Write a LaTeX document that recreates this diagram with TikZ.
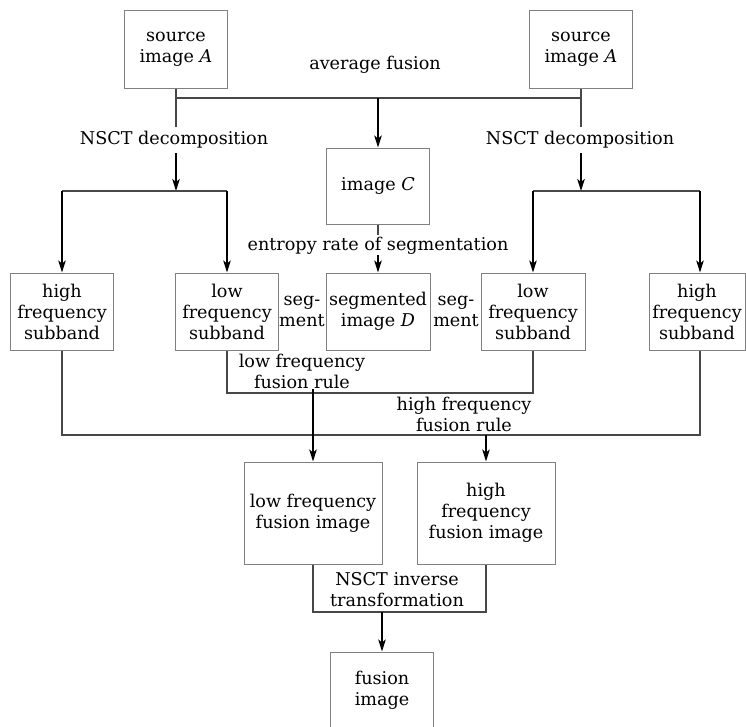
\documentclass[tikz,border=0pt]{standalone}
\usepackage{fontspec}
\setmainfont{DejaVu Serif}
\usetikzlibrary{arrows.meta,calc}
\tikzset{
  box/.style={draw=black!50, line width=1pt, fill=white, align=center, inner sep=0pt,
    font=\fontsize{17.6}{21}\selectfont},
  lbl/.style={align=center, inner sep=1pt, font=\fontsize{17.6}{21}\selectfont},
  conn/.style={draw=black!72, line width=1.3pt},
  arr/.style={draw=black, line width=1.7pt, -{Stealth[length=12pt,width=7.5pt,inset=3pt]}}
}
\begin{document}
\begin{tikzpicture}[x=1pt,y=-1pt]
\useasboundingbox (0,0) rectangle (746,726);
\clip (0,0) rectangle (746,726);
% boxes
\node[box, minimum width=103, minimum height=78] (srcL) at (176,49) {source\\image \textit{A}};
\node[box, minimum width=103, minimum height=78] (srcR) at (581,49) {source\\image \textit{A}};
\node[box, minimum width=103, minimum height=76] (imgC) at (378,186) {image \textit{C}};
\node[box, minimum width=103, minimum height=77] (hfL) at (62,311.5) {high\\frequency\\subband};
\node[box, minimum width=103, minimum height=77] (lfL) at (227,311.5) {low\\frequency\\subband};
\node[box, minimum width=104, minimum height=77] (segD) at (378,311.5) {segmented\\image \textit{D}};
\node[box, minimum width=104, minimum height=77] (lfR) at (533,311.5) {low\\frequency\\subband};
\node[box, minimum width=96, minimum height=77] (hfR) at (697,311.5) {high\\frequency\\subband};
\node[box, minimum width=138, minimum height=102] (lfFus) at (313,513) {low frequency\\fusion image};
\node[box, minimum width=138, minimum height=102] (hfFus) at (486,513) {high\\frequency\\fusion image};
\node[box, minimum width=103, minimum height=100] (fus) at (382,702) {};
\node[lbl] (fustxt) at (382,690) {fusion\\image};
% labels
\node[lbl] (avg) at (375,65) {average fusion};
\node[lbl] (nsctL) at (174,140) {NSCT decomposition};
\node[lbl] (nsctR) at (580,140) {NSCT decomposition};
\node[lbl] (ent) at (378,246) {entropy rate of segmentation};
\node[lbl] (segL) at (302,311) {seg-\\ment};
\node[lbl] (segR) at (456,311) {seg-\\ment};
\node[lbl] (lfr) at (302,371) {low frequency\\fusion rule};
\node[lbl] (hfr) at (464,414) {high frequency\\fusion rule};
\node[lbl] (inv) at (397,590) {NSCT inverse\\transformation};
% coordinates
\coordinate (avgL) at (176,98);
\coordinate (avgR) at (581,98);
\coordinate (dL1) at (176,127);
\coordinate (dL2) at (176,153);
\coordinate (dL3) at (176,191);
\coordinate (dR1) at (581,127);
\coordinate (dR2) at (581,153);
\coordinate (dR3) at (581,191);
\coordinate (eC1) at (378,235);
\coordinate (eC2) at (378,255);
\coordinate (lfM) at (313,393);
\coordinate (hfM) at (486,435);
\coordinate (invM) at (382,612);
\coordinate (hfRx) at (700,311.5);
% top connectors
\draw[conn] (srcL.south) -- (avgL) -- (avgR) -- (srcR.south);
\draw[conn] (avgL) -- (dL1);
\draw[conn] (avgR) -- (dR1);
\draw[arr] (imgC.north |- avgL) -- (imgC.north);
\draw[arr] (dL2) -- (dL3);
\draw[arr] (dR2) -- (dR3);
\draw[conn] (hfL.north |- dL3) -- (lfL.north |- dL3);
\draw[conn] (lfR.north |- dR3) -- (hfRx |- dR3);
\draw[arr] (hfL.north |- dL3) -- (hfL.north);
\draw[arr] (lfL.north |- dL3) -- (lfL.north);
\draw[arr] (lfR.north |- dR3) -- (lfR.north);
\draw[arr] (hfRx |- dR3) -- (hfRx |- hfR.north);
\draw[conn] (imgC.south) -- (eC1);
\draw[arr] (eC2) -- (segD.north);
% middle connectors
\draw[conn] (lfL.south) -- (lfL.south |- lfM) -- (lfR.south |- lfM) -- (lfR.south);
\draw[conn] (hfL.south) -- (hfL.south |- hfM) -- (hfRx |- hfM) -- (hfRx |- hfR.south);
\draw[arr] ($(lfM)+(0,-4)$) -- (lfFus.north);
\draw[arr] (hfM) -- (hfFus.north);
% bottom connectors
\draw[conn] (lfFus.south) -- (lfFus.south |- invM) -- (hfFus.south |- invM) -- (hfFus.south);
\draw[arr] (invM) -- (fus.north);
\end{tikzpicture}
\end{document}
